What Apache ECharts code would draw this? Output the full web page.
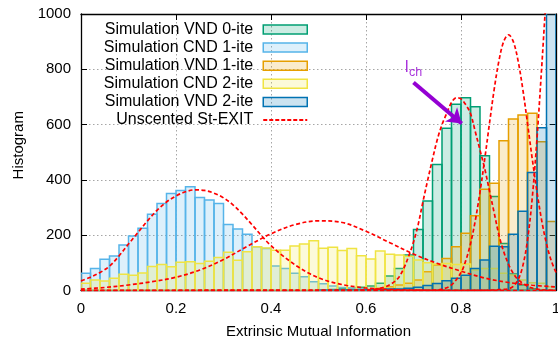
<!DOCTYPE html>
<html>
<head>
<meta charset="utf-8">
<script src="https://cdn.jsdelivr.net/npm/echarts@6/dist/echarts.min.js"></script>
<style>
  html, body { margin: 0; padding: 0; background: #fff; }
  #chart { width: 558px; height: 344px; }
</style>
</head>
<body>
<div id="chart"></div>
<script>
// Histogram bins: width 0.02 on [0, 1], listed by bin centre
const binCenters = [0.01,0.03,0.05,0.07,0.09,0.11,0.13,0.15,0.17,0.19,
                    0.21,0.23,0.25,0.27,0.29,0.31,0.33,0.35,0.37,0.39,
                    0.41,0.43,0.45,0.47,0.49,0.51,0.53,0.55,0.57,0.59,
                    0.61,0.63,0.65,0.67,0.69,0.71,0.73,0.75,0.77,0.79,
                    0.81,0.83,0.85,0.87,0.89,0.91,0.93,0.95,0.97,0.99];

// Simulated histogram counts per bin
const vnd0 = [0,0,0,0,0,0,0,0,0,0, 0,0,0,0,0,0,0,0,0,0,
              0,0,0,0,0, 2,4,6,8,12, 16,26,52,80,128, 221,324,456,587,674,
              697,665,487,340,170, 60,20,6,2,0];
const cnd1 = [62,80,113,125,165,197,225,276,315,351, 362,375,336,327,315,239,222,203,158,152,
              89,80,62,50,32,24,16,11,8,6, 4,3,2,1,1,0,0,0,0,0,
              0,0,0,0,0,0,0,0,0,0];
const vnd1 = [0,0,0,0,0,0,0,0,0,0, 0,0,0,0,0,0,0,0,0,0,
              0,0,0,0,0,0,0,1,2,3, 4,8,14,20,26,38,68,92,116,158,
              207,270,366,388,542,620,635,641,538,250];
const cnd2 = [26,38,34,44,59,55,63,87,94,86, 102,104,98,106,119,138,109,140,158,154,
              146,146,161,168,180,153,156,145,152,126, 114,143,131,128,124,110,100,96,98,94,
              96,74,80,80,62,56,38,28,26,14];
const vnd2 = [0,0,0,0,0,0,0,0,0,0, 0,0,0,0,0,0,0,0,0,0,
              0,0,0,0,0,1,1,2,2,2, 3,4,5,5,8,12,18,25,35,44,
              55,80,110,160,158,203,287,427,589,2780];

// Unscented St-EXIT densities, [information, count] pairs
const exit0 = [[0,35],[0.02,48],[0.04,65],[0.06,88],[0.08,125],[0.10,168],[0.12,210],[0.14,252],
               [0.16,290],[0.18,320],[0.20,342],[0.22,357],[0.24,364],[0.26,362],[0.28,352],[0.30,335],
               [0.32,310],[0.34,276],[0.36,238],[0.38,198],[0.40,162],[0.42,132],[0.44,106],[0.46,82],
               [0.48,62],[0.50,46],[0.52,34],[0.54,25],[0.56,18],[0.58,13],[0.60,9],[0.64,4],
               [0.70,1.5],[0.80,0.3],[1.0,0]];
const exit1 = [[0,5],[0.05,11],[0.10,20],[0.15,32],[0.20,48],[0.25,74],[0.30,112],[0.35,160],
               [0.40,205],[0.45,238],[0.50,252],[0.55,246],[0.60,214],[0.65,173],[0.70,132],
               [0.75,98],[0.80,70],[0.85,45],[0.90,29],[0.95,19],[1.0,13]];
const exit2 = [[0,0],[0.56,0.5],[0.60,2],[0.62,5],[0.64,13],[0.66,32],[0.67,50],[0.68,82],[0.69,125],
               [0.70,175],[0.71,240],[0.72,322],[0.73,400],[0.74,475],[0.75,545],[0.76,600],[0.77,641],
               [0.78,680],[0.79,697],[0.80,693],[0.81,672],[0.82,640],[0.83,575],[0.84,508],[0.85,440],
               [0.86,360],[0.87,280],[0.88,200],[0.89,140],[0.90,95],[0.91,62],[0.92,40],[0.94,15],
               [0.96,5],[0.98,1.5],[1.0,0.5]];
const exit3 = [[0,0],[0.70,0.5],[0.74,1],[0.76,5],[0.78,20],[0.80,65],[0.81,108],[0.82,169],[0.83,252],
               [0.84,356],[0.85,476],[0.86,605],[0.87,729],[0.88,832],[0.89,901],[0.90,925],
               [0.91,901],[0.92,832],[0.93,729],[0.94,605],[0.95,476],[0.96,356],[0.97,252],
               [0.98,169],[0.99,108],[1.0,65]];
const exit4 = [[0,0],[0.80,0],[0.84,0.5],[0.86,1],[0.88,3],[0.90,6],[0.91,15],[0.92,38],[0.93,88],
               [0.94,182],[0.95,335],[0.96,550],[0.97,810],[0.98,1075],[0.99,1270],[1.0,1340]];

// Tick values
const xTicks = { min: 0, max: 1, step: 0.2 };
const yTicks = { min: 0, max: 1000, step: 200 };

const BIN = 0.02;
const FONT = '"Liberation Sans", Arial, Helvetica, sans-serif';
const CURVE_NAME = 'Unscented St-EXIT';

const histDefs = [
  { name: 'Simulation VND 0-ite', values: vnd0, stroke: 'rgb(0,158,115)',  fill: 'rgba(0,158,115,0.2)' },
  { name: 'Simulation CND 1-ite', values: cnd1, stroke: 'rgb(86,180,233)', fill: 'rgba(86,180,233,0.2)' },
  { name: 'Simulation VND 1-ite', values: vnd1, stroke: 'rgb(230,159,0)',  fill: 'rgba(230,159,0,0.2)' },
  { name: 'Simulation CND 2-ite', values: cnd2, stroke: 'rgb(240,228,66)', fill: 'rgba(240,228,66,0.2)' },
  { name: 'Simulation VND 2-ite', values: vnd2, stroke: 'rgb(0,114,178)',  fill: 'rgba(0,114,178,0.2)' }
];

function histSeries(def) {
  return {
    name: def.name,
    type: 'custom',
    clip: true,
    silent: true,
    data: binCenters.map((c, i) => [c, def.values[i]]),
    encode: { x: 0, y: 1 },
    itemStyle: { color: def.fill, borderColor: def.stroke, borderWidth: 1.5 },
    renderItem(params, api) {
      const c = api.value(0);
      const v = api.value(1);
      if (!v) return null;
      const topLeft = api.coord([c - BIN / 2, v]);
      const bottomRight = api.coord([c + BIN / 2, 0]);
      return {
        type: 'rect',
        shape: {
          x: topLeft[0], y: topLeft[1],
          width: bottomRight[0] - topLeft[0],
          height: bottomRight[1] - topLeft[1]
        },
        style: { fill: def.fill, stroke: def.stroke, lineWidth: 1.5 }
      };
    }
  };
}

function curveSeries(points) {
  return {
    name: CURVE_NAME,
    type: 'line',
    data: points,
    smooth: 0.35,
    symbol: 'none',
    clip: true,
    silent: true,
    z: 3,
    lineStyle: { color: '#ff0000', width: 1.7, type: [4, 2.5] },
    itemStyle: { color: '#ff0000' }
  };
}

// Dashed sample for the legend entry of the density curves
const dashIcon = 'path://M0 0h4v2H0zM6 0h4v2H6zM12 0h4v2h-4zM18 0h4v2h-4zM24 0h4v2h-4zM30 0h4v2h-4zM36 0h4v2h-4zM42 0h2v2h-2z';

const axisBlack = { color: '#000', width: 1.3 };
const gridDots = { type: [1.5, 2.5], color: '#a6a6a6', width: 1 };
const plainNumber = v => String(v);

const option = {
  animation: false,
  backgroundColor: '#fff',
  textStyle: { fontFamily: FONT },
  grid: { left: 81, right: 2, top: 14, bottom: 53.5, containLabel: false, outerBoundsMode: 'none' },
  legend: {
    orient: 'vertical',
    align: 'right',
    right: 250,
    top: 20.5,
    padding: 0,
    itemGap: 0.1,
    itemWidth: 44,
    itemHeight: 9,
    symbolKeepAspect: true,
    selectedMode: false,
    textStyle: { fontFamily: FONT, fontSize: 16, color: '#000', lineHeight: 18, padding: [0, 5, 0, 0] },
    data: histDefs.map(d => ({
      name: d.name,
      icon: 'rect',
      itemStyle: { color: d.fill, borderColor: d.stroke, borderWidth: 1.5 }
    })).concat([{
      name: CURVE_NAME,
      icon: dashIcon,
      itemStyle: { color: '#ff0000', borderWidth: 0, borderColor: 'transparent' }
    }])
  },
  xAxis: [
    {
      type: 'value', position: 'bottom',
      min: xTicks.min, max: xTicks.max, interval: xTicks.step,
      name: 'Extrinsic Mutual Information',
      nameLocation: 'middle', nameGap: 34,
      nameTextStyle: { fontFamily: FONT, fontSize: 15, color: '#000' },
      axisLine: { onZero: false, lineStyle: axisBlack },
      axisTick: { inside: true, length: 6, lineStyle: { color: '#000' } },
      axisLabel: { fontFamily: FONT, fontSize: 15, color: '#000', margin: 11, formatter: plainNumber },
      splitLine: { show: true, lineStyle: gridDots }
    },
    {
      type: 'value', position: 'top',
      min: xTicks.min, max: xTicks.max, interval: xTicks.step,
      axisLine: { onZero: false, lineStyle: axisBlack },
      axisTick: { inside: true, length: 6, lineStyle: { color: '#000' } },
      axisLabel: { show: false },
      splitLine: { show: false }
    }
  ],
  yAxis: [
    {
      type: 'value', position: 'left',
      min: yTicks.min, max: yTicks.max, interval: yTicks.step,
      name: 'Histogram',
      nameLocation: 'middle', nameGap: 54,
      nameTextStyle: { fontFamily: FONT, fontSize: 15, color: '#000', padding: [0, 0, 0, 14] },
      axisLine: { onZero: false, lineStyle: axisBlack },
      axisTick: { inside: true, length: 6, lineStyle: { color: '#000' } },
      axisLabel: { fontFamily: FONT, fontSize: 15, color: '#000', margin: 10, formatter: plainNumber },
      splitLine: { show: true, lineStyle: gridDots }
    },
    {
      type: 'value', position: 'right',
      min: yTicks.min, max: yTicks.max, interval: yTicks.step,
      axisLine: { onZero: false, lineStyle: axisBlack },
      axisTick: { inside: true, length: 6, lineStyle: { color: '#000' } },
      axisLabel: { show: false },
      splitLine: { show: false }
    }
  ],
  series: histDefs.map(histSeries).concat(
    [exit0, exit1, exit2, exit3, exit4].map(curveSeries),
    [{
      // I_ch annotation with its arrow
      name: 'Ich',
      type: 'scatter',
      silent: true,
      z: 5,
      symbolSize: 1,
      itemStyle: { color: 'transparent' },
      data: [[0.682, 833]],
      label: {
        show: true,
        position: [0, 0],
        align: 'left',
        verticalAlign: 'top',
        formatter: '{i|I}{s|ch}',
        rich: {
          i: { fontFamily: FONT, fontSize: 16, color: '#9400D3', verticalAlign: 'top', lineHeight: 19 },
          s: { fontFamily: FONT, fontSize: 12.5, color: '#9400D3', verticalAlign: 'bottom', lineHeight: 19 }
        }
      },
      markLine: {
        silent: true,
        animation: false,
        symbol: ['none', 'arrow'],
        symbolSize: 14,
        label: { show: false },
        lineStyle: { color: '#9400D3', width: 4, type: 'solid' },
        data: [[{ coord: [0.7, 752] }, { coord: [0.8015, 604] }]]
      }
    }]
  )
};

const chart = echarts.init(document.getElementById('chart'), null, { renderer: 'canvas' });
chart.setOption(option);
</script>
</body>
</html>
